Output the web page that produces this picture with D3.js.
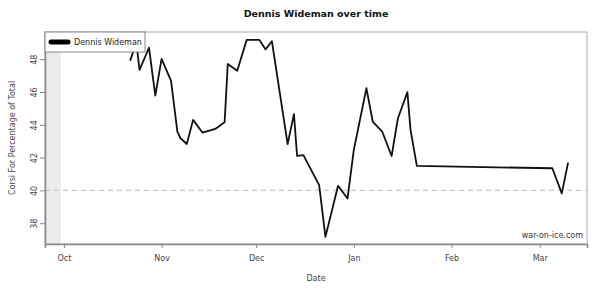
<!DOCTYPE html>
<html>
<head>
<meta charset="utf-8">
<script src="https://cdn.jsdelivr.net/npm/d3@7"></script>
<style>
  body { margin: 0; background: #fff; }
  svg { font-family: 'DejaVu Sans', sans-serif; }
</style>
</head>
<body>
<div id="chart"></div>
<script>
// game dates and Corsi For % values
const gameDates = [
  '2013-10-22', '2013-10-24', '2013-10-25', '2013-10-28', '2013-10-30',
  '2013-11-01', '2013-11-04', '2013-11-06', '2013-11-07', '2013-11-09',
  '2013-11-11', '2013-11-14', '2013-11-18', '2013-11-21', '2013-11-22',
  '2013-11-25', '2013-11-28', '2013-12-02', '2013-12-04', '2013-12-06',
  '2013-12-11', '2013-12-13', '2013-12-14', '2013-12-16', '2013-12-21',
  '2013-12-23', '2013-12-27', '2013-12-30', '2014-01-01', '2014-01-05',
  '2014-01-07', '2014-01-10', '2014-01-13', '2014-01-15', '2014-01-18',
  '2014-01-19', '2014-01-21', '2014-03-05', '2014-03-08', '2014-03-10'
]
const corsiPct = [
  47.9, 49.0, 47.35, 48.7, 45.78,
  48.02, 46.68, 43.59, 43.18, 42.83,
  44.3, 43.52, 43.75, 44.16, 47.71,
  47.3, 49.18, 49.18, 48.6, 49.1,
  42.82, 44.65, 42.1, 42.15, 40.32,
  37.17, 40.28, 39.5, 42.47, 46.23,
  44.2, 43.59, 42.1, 44.4, 45.99,
  43.69, 41.49, 41.35, 39.82, 41.69
]
const yTicks = [38, 40, 42, 44, 46, 48]
const monthTicks = ['2013-10-01', '2013-11-01', '2013-12-01', '2014-01-01', '2014-02-01', '2014-03-01']
const xDomain = ['2013-09-25', '2014-03-16']
const preseasonEnd = '2013-09-30'
const refLine = 40
const playerName = 'Dennis Wideman'

const width = 600
const height = 292
const margin = { top: 32, right: 13, bottom: 48, left: 45 }
const parse = d3.timeParse('%Y-%m-%d')

const data = gameDates.map((d, i) => ({ date: parse(d), value: corsiPct[i] }))

const x = d3.scaleTime()
  .domain(xDomain.map(parse))
  .range([margin.left, width - margin.right])

const y = d3.scaleLinear()
  .domain([36.73, 49.66])
  .range([height - margin.bottom, margin.top])

const svg = d3.select('#chart')
  .append('svg')
  .attr('width', width)
  .attr('height', height)

// shaded band before the season
svg.append('rect')
  .attr('x', x.range()[0])
  .attr('y', margin.top)
  .attr('width', x(parse(preseasonEnd)) - x.range()[0])
  .attr('height', height - margin.bottom - margin.top)
  .attr('fill', '#ebebeb')

// dashed reference at 40
svg.append('line')
  .attr('x1', margin.left)
  .attr('x2', width - margin.right)
  .attr('y1', y(refLine))
  .attr('y2', y(refLine))
  .attr('stroke', '#c8c8c8')
  .attr('stroke-width', 1.2)
  .attr('stroke-dasharray', '5,4')

// the series
svg.append('path')
  .datum(data)
  .attr('fill', 'none')
  .attr('stroke', '#111')
  .attr('stroke-width', 1.8)
  .attr('stroke-linejoin', 'round')
  .attr('d', d3.line().x(d => x(d.date)).y(d => y(d.value)))

// plot box
svg.append('rect')
  .attr('x', margin.left)
  .attr('y', margin.top)
  .attr('width', width - margin.left - margin.right)
  .attr('height', height - margin.top - margin.bottom)
  .attr('fill', 'none')
  .attr('stroke', '#aaa')
  .attr('stroke-width', 1)

// axes
const xAxis = d3.axisBottom(x)
  .tickValues(monthTicks.map(parse))
  .tickFormat(d3.timeFormat('%b'))
  .tickSize(4)
  .tickPadding(7)

const gx = svg.append('g')
  .attr('transform', `translate(0, ${height - margin.bottom})`)
  .call(xAxis)
gx.select('.domain').attr('stroke', '#888').attr('stroke-width', 1.5)
gx.selectAll('.tick line').attr('stroke', '#888')
gx.selectAll('.tick text')
  .attr('fill', '#444')
  .style('font-size', '8px')
  .style('font-family', 'DejaVu Sans')

const yAxis = d3.axisLeft(y)
  .tickValues(yTicks)
  .tickSize(5)
  .tickSizeOuter(0)

const gy = svg.append('g')
  .attr('transform', `translate(${margin.left}, 0)`)
  .call(yAxis)
gy.select('.domain').attr('stroke', '#888').attr('stroke-width', 1.5)
gy.selectAll('.tick line').attr('stroke', '#888')
gy.selectAll('.tick text')
  .attr('fill', '#444')
  .attr('x', null)
  .attr('text-anchor', 'middle')
  .attr('transform', 'translate(-11, 0) rotate(-90)')
  .attr('y', 0)
  .attr('dy', '0.35em')
  .style('font-size', '8px')
  .style('font-family', 'DejaVu Sans')

// titles
svg.append('text')
  .attr('x', (margin.left + width - margin.right) / 2)
  .attr('y', 17)
  .attr('text-anchor', 'middle')
  .style('font-size', '9.5px')
  .style('font-weight', 'bold')
  .attr('fill', '#111')
  .text(playerName + ' over time')

svg.append('text')
  .attr('x', (margin.left + width - margin.right) / 2)
  .attr('y', 281)
  .attr('text-anchor', 'middle')
  .style('font-size', '8px')
  .attr('fill', '#444')
  .text('Date')

svg.append('text')
  .attr('transform', `translate(15, ${(margin.top + height - margin.bottom) / 2}) rotate(-90)`)
  .attr('text-anchor', 'middle')
  .style('font-size', '8px')
  .attr('fill', '#444')
  .text('Corsi For Percentage of Total')

// watermark
svg.append('text')
  .attr('x', width - margin.right - 4)
  .attr('y', height - margin.bottom - 6)
  .attr('text-anchor', 'end')
  .style('font-size', '8px')
  .attr('fill', '#333')
  .text('war-on-ice.com')

// legend
const legend = svg.append('g')
  .attr('transform', `translate(${margin.left}, ${margin.top})`)
legend.append('rect')
  .attr('width', 100)
  .attr('height', 20)
  .attr('fill', '#fff')
  .attr('stroke', '#888')
legend.append('line')
  .attr('x1', 6)
  .attr('x2', 23)
  .attr('y1', 10)
  .attr('y2', 10)
  .attr('stroke', '#000')
  .attr('stroke-width', 5)
  .attr('stroke-linecap', 'round')
legend.append('text')
  .attr('x', 29)
  .attr('y', 13)
  .style('font-size', '8px')
  .attr('fill', '#222')
  .text(playerName)
</script>
</body>
</html>
